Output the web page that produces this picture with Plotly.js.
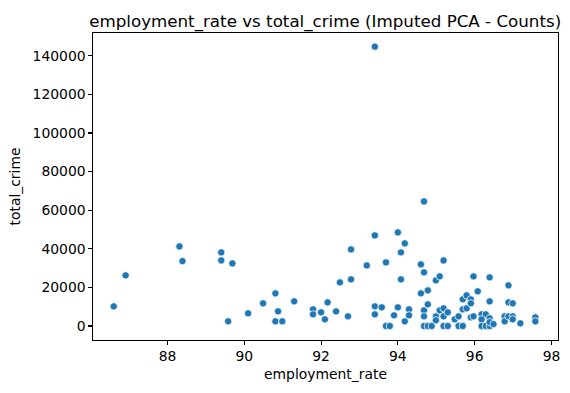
<!DOCTYPE html>
<html>
<head>
<meta charset="utf-8">
<script src="https://cdn.plot.ly/plotly-3.0.1.min.js"></script>
<style>html,body{margin:0;padding:0;background:#fff;}#chart{width:570px;height:393px;}</style>
</head>
<body>
<div id="chart"></div>
<script>
const employmentRate = [
  86.60, 86.91, 88.31, 88.39, 89.40, 89.40, 89.69, 89.58, 90.10, 90.49,
  90.81, 90.88, 90.81, 90.99, 91.30, 91.79, 91.79, 92.00, 92.10, 92.17,
  93.40, 94.68, 93.40, 94.00, 94.18, 92.78, 94.08, 93.19, 93.69, 94.60,
  95.19, 94.68, 92.49, 92.78, 94.08, 94.99, 95.09, 94.78, 94.60, 95.97,
  96.39, 96.08, 96.88, 96.39, 96.88, 96.99, 92.39, 92.70, 93.40, 93.58,
  93.40, 93.69, 93.79, 93.90, 94.00, 94.18, 94.29, 94.29, 94.68, 94.68,
  94.78, 94.68, 94.78, 94.88, 94.99, 94.99, 95.09, 95.19, 95.19, 95.30,
  95.19, 95.30, 95.48, 95.58, 95.58, 95.69, 95.69, 95.79, 95.90, 95.69,
  95.79, 95.90, 95.90, 95.97, 96.18, 96.29, 96.18, 96.39, 96.18, 96.29,
  96.39, 96.39, 96.49, 96.78, 96.78, 96.88, 96.99, 96.99, 97.19, 97.58,
  97.58
];
const totalCrime = [
  10190, 26240, 41240, 33640, 38140, 34000, 32450, 2430, 6570, 11750,
  16920, 7600, 2430, 2430, 12780, 8640, 6050, 7090, 3470, 12260,
  144740, 64530, 46940, 48490, 42800, 39690, 38140, 31410, 32960, 31930,
  34000, 27790, 22610, 24170, 24170, 23650, 25720, 18470, 16920, 25720,
  25200, 17960, 21060, 12780, 12260, 11750, 7600, 5020, 10190, 9680,
  6050, 0, 0, 5540, 9680, 2430, 8640, 5540, 8120, 5020,
  11230, 0, 0, 0, 5020, 2950, 8120, 9160, 5020, 7090,
  0, 0, 3470, 5020, 0, 0, 13820, 15890, 13820, 8640,
  9160, 11750, 4500, 5020, 6050, 6050, 3470, 4000, 0, 0,
  0, 2000, 1000, 5020, 2430, 5020, 5020, 3470, 1400, 4500,
  2430
];
const xTicks = [88, 90, 92, 94, 96, 98];
const yTicks = [0, 20000, 40000, 60000, 80000, 100000, 120000, 140000];

const font = 'DejaVu Sans, sans-serif';
const trace = {
  x: employmentRate,
  y: totalCrime,
  type: 'scatter',
  mode: 'markers',
  marker: {color: '#1f77b4', size: 7.3, line: {color: '#ffffff', width: 0.75}},
  hoverinfo: 'x+y'
};
const axisCommon = {
  automargin: false,
  showgrid: false, zeroline: false, showline: true, linecolor: '#000', linewidth: 1.1,
  mirror: true, ticks: 'outside', ticklen: 3.5, tickwidth: 1.1, tickcolor: '#000',
  tickfont: {family: font, size: 13.9, color: '#000'}
};
const layout = {
  width: 570, height: 393,
  margin: {l: 93, r: 12, t: 33, b: 53},
  paper_bgcolor: '#fff', plot_bgcolor: '#fff',
  showlegend: false,
  title: {text: 'employment_rate vs total_crime (Imputed PCA - Counts)', font: {family: font, size: 16.7, color: '#000'},
          x: 0.5705, xanchor: 'center', y: 0.9466, yanchor: 'middle', yref: 'container', automargin: false},
  xaxis: Object.assign({}, axisCommon, {
    range: [86.06, 98.17], tickvals: xTicks, ticktext: xTicks.map(String),
    title: {text: 'employment_rate', font: {family: font, size: 13.9, color: '#000'}, standoff: 6}
  }),
  yaxis: Object.assign({}, axisCommon, {
    range: [-7245, 151800], tickvals: yTicks, ticktext: yTicks.map(String),
    title: {text: 'total_crime', font: {family: font, size: 13.9, color: '#000'}, standoff: 8}
  })
};
Plotly.newPlot('chart', [trace], layout, {displayModeBar: false, staticPlot: true});
</script>
</body>
</html>
